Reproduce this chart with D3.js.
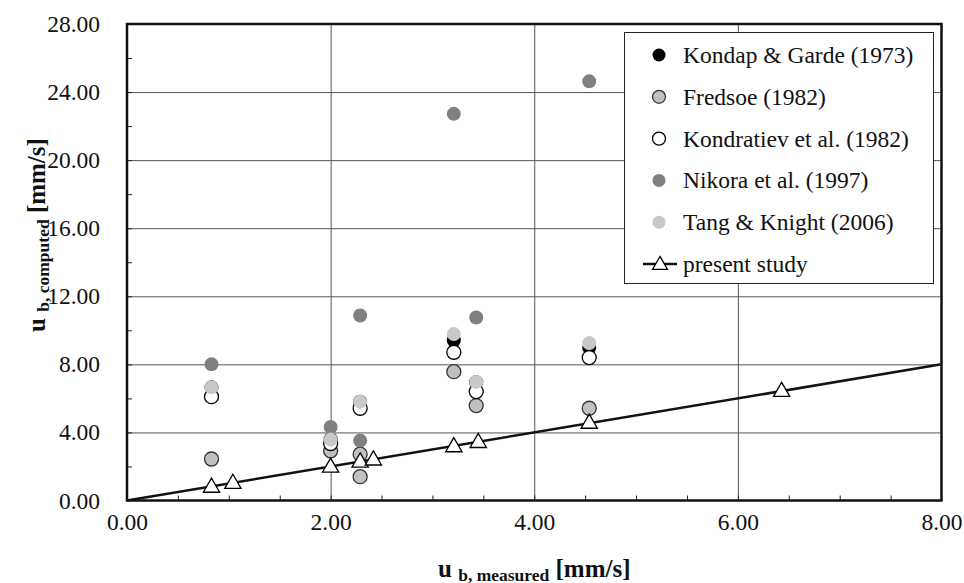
<!DOCTYPE html>
<html><head><meta charset="utf-8">
<script src="https://cdn.jsdelivr.net/npm/d3@7"></script>
<style>
body{margin:0;background:#fff;}
svg{display:block;}
svg text{font-family:'Liberation Serif', 'Times New Roman', serif;}
</style></head>
<body><svg id="c" width="964" height="583"></svg>
<script>
// ---- data ----
const measured   = [0.83, 2.00, 2.29, 2.29, 3.21, 3.43, 4.54];
const kondap     = [6.65, 3.60, 5.80, null, 9.42, 6.95, 8.98];
const fredsoe    = [2.44, 2.92, 2.72, 1.40, 7.57, 5.58, 5.42];
const kondratiev = [6.10, 3.35, 5.42, null, 8.71, 6.40, 8.40];
const nikora     = [8.00, 4.32, 10.87, 3.52, 22.72, 10.75, 24.63];
const tang       = [6.65, 3.58, 5.81, null, 9.78, 6.97, 9.25];
const presentX   = [0.83, 1.04, 2.00, 2.29, 2.42, 3.21, 3.45, 4.54, 6.43];
const presentY   = [0.82, 1.05, 2.00, 2.30, 2.42, 3.20, 3.45, 4.58, 6.45];
const lineX      = [0, 8];
const lineY      = [0, 8];
const xTicks = [0, 2, 4, 6, 8];
const yTicks = [0, 4, 8, 12, 16, 20, 24, 28];
const seriesNames = ["Kondap & Garde (1973)", "Fredsoe (1982)", "Kondratiev et al. (1982)", "Nikora et al. (1997)", "Tang & Knight (2006)"];
const presentName = "present study";

// ---- styles ----
const styles = [
  {fill:"#000000", stroke:"none"},
  {fill:"#c0c0c0", stroke:"#333"},
  {fill:"#ffffff", stroke:"#000"},
  {fill:"#808080", stroke:"none"},
  {fill:"#c8c8c8", stroke:"none"}
];
const seriesVals = [kondap, fredsoe, kondratiev, nikora, tang];
const FF = "'Liberation Serif', 'Times New Roman', serif";

const svg = d3.select("#c");
const L = 127, R = 941.5, T = 24, B = 500.5;
const x = d3.scaleLinear().domain([0, 8]).range([L, R]);
const y = d3.scaleLinear().domain([0, 28]).range([B, T]);
const fontSize = 23.5;

// grid
svg.append("g").attr("transform", `translate(0,${B})`)
  .call(d3.axisBottom(x).tickValues([2,4,6]).tickSize(-(B-T)).tickFormat(""))
  .call(g => { g.select(".domain").remove(); g.selectAll("line").attr("stroke","#555").attr("stroke-width",1); });
svg.append("g").attr("transform", `translate(${L},0)`)
  .call(d3.axisLeft(y).tickValues([4,8,12,16,20,24]).tickSize(-(R-L)).tickFormat(""))
  .call(g => { g.select(".domain").remove(); g.selectAll("line").attr("stroke","#555").attr("stroke-width",1); });

// minor ticks
svg.append("g").attr("transform", `translate(0,${B})`)
  .call(d3.axisBottom(x).tickValues(d3.range(0.5, 8, 0.5)).tickSize(-5).tickFormat(""))
  .call(g => { g.select(".domain").remove(); g.selectAll("line").attr("stroke","#222").attr("stroke-width",1); });
svg.append("g").attr("transform", `translate(${L},0)`)
  .call(d3.axisLeft(y).tickValues(d3.range(2, 28, 2)).tickSize(-5).tickFormat(""))
  .call(g => { g.select(".domain").remove(); g.selectAll("line").attr("stroke","#222").attr("stroke-width",1); });

// tick labels
svg.append("g").attr("transform", `translate(0,${B})`)
  .call(d3.axisBottom(x).tickValues(xTicks).tickSize(0).tickPadding(13).tickFormat(d3.format(".2f")))
  .call(g => { g.select(".domain").remove(); g.attr("font-family", null);
    g.selectAll("text").attr("font-size", fontSize).style("font-family", FF).attr("fill","#111"); });
svg.append("g").attr("transform", `translate(${L},0)`)
  .call(d3.axisLeft(y).tickValues(yTicks).tickSize(0).tickPadding(27).tickFormat(d3.format(".2f")))
  .call(g => { g.select(".domain").remove(); g.attr("font-family", null);
    g.selectAll("text").attr("font-size", fontSize).style("font-family", FF).attr("fill","#111"); });

// present study line
svg.append("path")
  .datum(lineX.map((v,i)=>[v, lineY[i]]))
  .attr("d", d3.line().x(d=>x(d[0])).y(d=>y(d[1])))
  .attr("stroke","#111").attr("stroke-width",2.5).attr("fill","none");

// circles
seriesVals.forEach((vals, si) => {
  const pts = measured.map((m,i)=>[m, vals[i]]).filter(d=>d[1]!=null);
  svg.append("g").selectAll("circle").data(pts).join("circle")
    .attr("cx", d=>x(d[0])).attr("cy", d=>y(d[1])).attr("r", 7)
    .attr("fill", styles[si].fill).attr("stroke", styles[si].stroke).attr("stroke-width", 1.3);
});

// triangles
const tri = d3.symbol().type(d3.symbolTriangle).size(115);
svg.append("g").selectAll("path").data(presentX.map((v,i)=>[v, presentY[i]])).join("path")
  .attr("d", tri).attr("transform", d=>`translate(${x(d[0])},${y(d[1])+1})`)
  .attr("fill","#fff").attr("stroke","#000").attr("stroke-width",1.3);

// frame
svg.append("rect").attr("x",L).attr("y",T).attr("width",R-L).attr("height",B-T)
  .attr("fill","none").attr("stroke","#111").attr("stroke-width",2.5);

// legend
const lg = svg.append("g");
lg.append("rect").attr("x",624.5).attr("y",32.5).attr("width",309).attr("height",251)
  .attr("fill","#fff").attr("stroke","#222").attr("stroke-width",1);
const ly0 = 55, ldy = 41.8;
seriesNames.forEach((n,i)=>{
  const yy = ly0 + i*ldy;
  lg.append("circle").attr("cx",659).attr("cy",yy).attr("r",6.5)
    .attr("fill",styles[i].fill).attr("stroke",styles[i].stroke).attr("stroke-width",1.3);
  lg.append("text").attr("x",683).attr("y",yy+8).attr("font-size",fontSize).style("font-family",FF).attr("fill","#111").text(n);
});
{
  const yy = ly0 + 5*ldy;
  lg.append("line").attr("x1",643).attr("x2",677).attr("y1",yy).attr("y2",yy).attr("stroke","#111").attr("stroke-width",2.5);
  lg.append("path").attr("d", d3.symbol().type(d3.symbolTriangle).size(95)).attr("transform",`translate(660,${yy+1})`)
    .attr("fill","#fff").attr("stroke","#000").attr("stroke-width",1.3);
  lg.append("text").attr("x",683).attr("y",yy+8).attr("font-size",fontSize).style("font-family",FF).attr("fill","#111").text(presentName);
}

// axis titles
const xt = svg.append("text").attr("x",(L+R)/2).attr("y",576.5).attr("text-anchor","middle")
  .attr("font-weight","bold").style("font-family",FF).attr("fill","#111");
xt.append("tspan").attr("font-size",25).text("u ");
xt.append("tspan").attr("font-size",17.5).attr("dy",4).text("b, measured");
xt.append("tspan").attr("font-size",25).attr("dy",-4).text(" [mm/s]");

const yt = svg.append("text").attr("transform",`translate(45,235) rotate(-90)`).attr("text-anchor","middle")
  .attr("font-weight","bold").style("font-family",FF).attr("fill","#111");
yt.append("tspan").attr("font-size",25).text("u ");
yt.append("tspan").attr("font-size",17.5).attr("dy",4).text("b, computed");
yt.append("tspan").attr("font-size",25).attr("dy",-4).text(" [mm/s]");
</script></body></html>
